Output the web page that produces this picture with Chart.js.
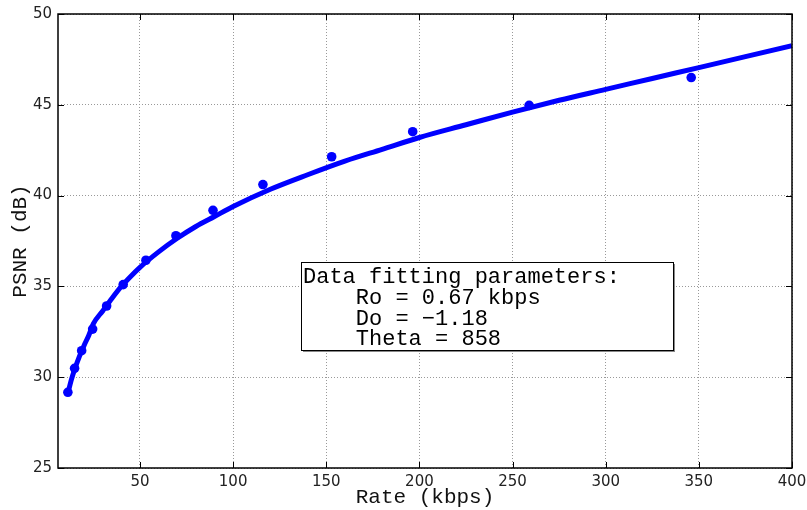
<!DOCTYPE html>
<html>
<head>
<meta charset="utf-8">
<script src="https://cdn.jsdelivr.net/npm/chart.js@4.4.0/dist/chart.umd.min.js"></script>
<style>
  html, body { margin: 0; padding: 0; background: #fff; }
  #wrap { width: 807px; height: 510px; }
</style>
</head>
<body>
<div id="wrap"><canvas id="myChart" width="807" height="510"></canvas></div>
<script>
// measured points (Rate kbps / PSNR dB)
const rateData = [11.3, 14.9, 18.7, 24.6, 32.1, 41.0, 53.2, 69.3, 89.2, 116.0, 152.9, 196.4, 258.9, 345.9];
const psnrData = [29.17, 30.49, 31.46, 32.65, 33.92, 35.10, 36.44, 37.79, 39.19, 40.61, 42.14, 43.52, 44.97, 46.50];

// fitted curve
const fitRate = [11.3, 13, 15, 17.5, 20, 22.5, 25, 30, 35, 40, 45, 50, 60, 70, 80, 90, 100, 120, 140, 160, 180, 200, 225, 250, 275, 300, 325, 350, 375, 400];
const fitPsnr = [29.1, 29.8, 30.45, 31.15, 31.75, 32.3, 32.95, 33.65, 34.35, 35.0, 35.55, 36.05, 36.9, 37.65, 38.3, 38.85, 39.4, 40.35, 41.15, 41.9, 42.55, 43.2, 43.9, 44.6, 45.25, 45.85, 46.45, 47.05, 47.65, 48.25];

// ticks
const xTicks = [50, 100, 150, 200, 250, 300, 350, 400];
const yTicks = [25, 30, 35, 40, 45, 50];

// text box lines
const boxLines = ['Data fitting parameters:', '    Ro = 0.67 kbps', '    Do = \u22121.18', '    Theta = 858'];

const ctx = document.getElementById('myChart');

// frame + inward tick marks + parameter box (matlab look)
const framePlugin = {
    id: 'framePlugin',
    afterDraw(chart) {
        const c = chart.ctx;
        const a = chart.chartArea;
        const xs = chart.scales.x;
        const ys = chart.scales.y;
        c.save();

        // parameter box
        const bx = 301, by = 262, bw = 372, bh = 88;
        c.fillStyle = '#fff';
        c.fillRect(bx, by, bw, bh);
        c.strokeStyle = '#888';
        c.lineWidth = 2;
        c.beginPath();
        c.moveTo(bx + bw + 1, by + 2);
        c.lineTo(bx + bw + 1, by + bh + 1);
        c.lineTo(bx + 2, by + bh + 1);
        c.stroke();
        c.strokeStyle = '#000';
        c.lineWidth = 1;
        c.strokeRect(bx + 0.5, by + 0.5, bw, bh);
        c.fillStyle = '#000';
        c.font = '22px "Liberation Mono"';
        c.textBaseline = 'alphabetic';
        c.textAlign = 'left';
        boxLines.forEach((line, i) => {
            c.fillText(line, bx + 2, by + 21 + i * 20.8);
        });

        // tick marks
        c.strokeStyle = '#000';
        c.lineWidth = 1;
        const tl = 6;
        c.beginPath();
        xTicks.forEach((v) => {
            const px = Math.round(xs.getPixelForValue(v)) + 0.5;
            c.moveTo(px, a.bottom);
            c.lineTo(px, a.bottom - tl);
            c.moveTo(px, a.top);
            c.lineTo(px, a.top + tl);
        });
        yTicks.forEach((v) => {
            const py = Math.round(ys.getPixelForValue(v)) + 0.5;
            c.moveTo(a.left, py);
            c.lineTo(a.left + tl, py);
            c.moveTo(a.right, py);
            c.lineTo(a.right - tl, py);
        });
        c.stroke();

        // frame
        c.lineWidth = 1.5;
        c.strokeRect(a.left, a.top, a.right - a.left, a.bottom - a.top);
        c.restore();
    }
};

const chartConfig = {
    type: 'scatter',
    data: {
        datasets: [{
            label: 'measured',
            data: rateData.map((r, i) => ({x: r, y: psnrData[i]})),
            showLine: false,
            pointRadius: 4.8,
            pointBackgroundColor: '#0000ff',
            pointBorderColor: '#0000ff',
            pointBorderWidth: 0,
            order: 0
        }, {
            label: 'fit',
            data: fitRate.map((r, i) => ({x: r, y: fitPsnr[i]})),
            showLine: true,
            pointRadius: 0,
            borderColor: '#0000ff',
            borderWidth: 5,
            cubicInterpolationMode: 'monotone',
            order: 1
        }]
    },
    options: {
        responsive: false,
        animation: false,
        devicePixelRatio: 1,
        layout: { padding: { top: 14, right: 15, left: 0, bottom: 0 } },
        plugins: { legend: { display: false }, tooltip: { enabled: false } },
        scales: {
            x: {
                type: 'linear',
                min: 6,
                max: 400,
                afterBuildTicks: (axis) => { axis.ticks = xTicks.map(v => ({value: v})); },
                afterFit: (scale) => {
                    scale.height = 42;
                    scale.paddingLeft = 0;
                    scale.paddingRight = 0;
                },
                grid: { color: '#999', lineWidth: 1, drawTicks: false },
                border: { display: false, dash: [1, 2] },
                ticks: {
                    padding: 5,
                    color: '#222',
                    font: { family: 'DejaVu Sans', size: 15 },
                    maxRotation: 0,
                    autoSkip: false
                },
                title: {
                    display: true,
                    text: 'Rate (kbps)',
                    color: '#111',
                    font: { family: 'Liberation Mono', size: 21 },
                    padding: { top: 0, bottom: 0 }
                }
            },
            y: {
                type: 'linear',
                min: 25,
                max: 50,
                afterBuildTicks: (axis) => { axis.ticks = yTicks.map(v => ({value: v})); },
                afterFit: (scale) => {
                    scale.width = 58;
                    scale.paddingTop = 0;
                    scale.paddingBottom = 0;
                },
                grid: { color: '#999', lineWidth: 1, drawTicks: false },
                border: { display: false, dash: [1, 2] },
                ticks: {
                    padding: 6,
                    color: '#222',
                    font: { family: 'DejaVu Sans', size: 15 }
                },
                title: {
                    display: true,
                    text: 'PSNR (dB)',
                    color: '#111',
                    font: { family: 'Liberation Mono', size: 21 },
                    padding: { top: 8, bottom: 0 }
                }
            }
        }
    },
    plugins: [framePlugin]
};
new Chart(ctx, chartConfig);
</script>
</body>
</html>
